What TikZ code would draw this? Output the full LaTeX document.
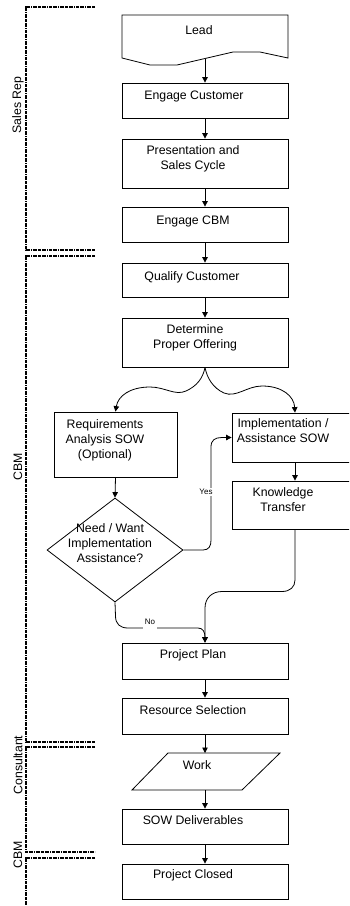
\documentclass[tikz,border=0pt]{standalone}
\usepackage{fontspec}
\setmainfont{Liberation Sans}
\usetikzlibrary{arrows.meta,shapes.geometric}

\tikzset{
  box/.style={draw, line width=0.8pt, rectangle, minimum width=166pt, inner sep=0pt},
  rbox/.style={draw, line width=0.8pt, rectangle, inner sep=0pt},
  txt/.style={font=\fontsize{12.3}{15}\selectfont, align=center, inner sep=0pt},
  small/.style={font=\fontsize{8}{9}\selectfont, fill=white, inner xsep=2pt, inner ysep=1pt},
  lane/.style={line width=1.2pt, dash pattern=on 3pt off 0.8pt on 0.8pt off 0.8pt},
  lanetxt/.style={font=\fontsize{12.3}{15}\selectfont, rotate=90, inner sep=0pt},
  conn/.style={line width=0.8pt, -{Triangle[width=5.5pt,length=5.5pt]}},
}

\begin{document}
\begin{tikzpicture}[x=1pt,y=-1pt]
\clip (0,0) rectangle (349,906);

% swim-lane brackets
\draw[lane] (95,7) -- (26,7) -- (26,250) -- (95,250);
\draw[lane] (95,256) -- (26,256) -- (26,742) -- (95,742);
\draw[lane] (95,747) -- (26,747) -- (26,852) -- (95,852);
\draw[lane] (95,858) -- (26,858) -- (26,910);
\node[lanetxt] (l1) at (18,105) {Sales Rep};
\node[lanetxt] (l2) at (18,467) {CBM};
\node[lanetxt] (l3) at (18,765) {Consultant};
\node[lanetxt] (l4) at (18,855) {CBM};

% document shape
\draw[line width=0.8pt] (122,15) -- (288,15) -- (288,58) -- (260,52) -- (233,52)
  -- (177,65) -- (150,65) -- (122,58) -- cycle;
\node[txt] (leadt) at (199,30) {Lead};
\coordinate (leadout) at (205,58.5);

% process boxes
\node[box, minimum height=35pt] (ec) at (205,100.5) {};
\node[txt] (ect) at (194,96) {Engage Customer};
\node[box, minimum height=49pt] (pres) at (205,163.5) {};
\node[txt] (prest) at (193,158.5) {Presentation and\\Sales Cycle};
\node[box, minimum height=35pt] (ecbm) at (205,224.5) {};
\node[txt] (ecbmt) at (193,221) {Engage CBM};
\node[box, minimum height=34pt] (qc) at (205,280) {};
\node[txt] (qct) at (192,277) {Qualify Customer};
\node[box, minimum height=49pt] (dpo) at (205,342.5) {};
\node[txt] (dpot) at (195,337.5) {Determine\\Proper Offering};

\node[rbox, minimum width=123pt, minimum height=65pt] (ras) at (115.5,444.5) {};
\node[txt] (rast) at (105,440) {Requirements\\Analysis SOW\\(Optional)};
\node[rbox, minimum width=126pt, minimum height=49pt] (ias) at (295,437.5) {};
\node[txt] (iast) at (283,430.5) {Implementation /\\Assistance SOW};
\node[rbox, minimum width=126pt, minimum height=48pt] (kt) at (295,505) {};
\node[txt] (ktt) at (283,500) {Knowledge\\Transfer};

\node[draw, line width=0.8pt, diamond, minimum width=136pt, minimum height=104pt,
      inner sep=0pt] (dec) at (115,550) {};
\node[txt] (dect) at (110,543.5) {Need / Want\\Implementation\\Assistance?};

\node[box, minimum height=36pt] (pp) at (205,661) {};
\node[txt] (ppt) at (193,655) {Project Plan};
\node[box, minimum height=36pt] (rs) at (205,716) {};
\node[txt] (rst) at (193,710) {Resource Selection};
\draw[line width=0.8pt] (168,753) -- (280,753) -- (242,790) -- (132,790) -- cycle;
\coordinate (workin) at (205,753);
\coordinate (workout) at (205,790);
\node[txt] (workt) at (197,765) {Work};
\node[box, minimum height=35pt] (sowd) at (205,826.5) {};
\node[txt] (sowdt) at (193,820) {SOW Deliverables};
\node[box, minimum height=35pt] (pc) at (205,881.5) {};
\node[txt] (pct) at (193,875) {Project Closed};

% straight flow
\draw[conn] (leadout) -- (ec.north);
\draw[conn] (ec.south) -- (pres.north);
\draw[conn] (pres.south) -- (ecbm.north);
\draw[conn] (ecbm.south) -- (qc.north);
\draw[conn] (qc.south) -- (dpo.north);
\draw[conn] (ras.south) -- (dec.north);
\draw[conn] (ias.south) -- (kt.north);
\draw[conn] (pp.south) -- (rs.north);
\draw[conn] (rs.south) -- (workin);
\draw[conn] (workout) -- (sowd.north);
\draw[conn] (sowd.south) -- (pc.north);

% split after offering
\draw[conn] (dpo.south) .. controls (203,378) and (197,386) .. (186,391)
  .. controls (175,396) and (165,387) .. (150,387)
  .. controls (130,387) and (118,396) .. (ras.north);
\draw[conn] (dpo.south) .. controls (207,378) and (213,388) .. (224,393)
  .. controls (236,398) and (247,386) .. (262,386)
  .. controls (282,386) and (294,396) .. (ias.north);

% decision outcomes
\draw[conn] (dec.east) -- (203,550) .. controls (209,550) and (211,546) .. (211,540)
  -- (211,447) .. controls (211,440) and (215,437.5) .. (222,437.5) -- (ias.west);
\node[small] (yes) at (206,492) {Yes};
\draw[conn] (dec.south) -- (115.5,616) .. controls (115.5,624) and (120,628) .. (128,628)
  -- (198,628) .. controls (203,628) and (205,632) .. (pp.north);
\node[small, text depth=4pt] (no) at (150,624) {No};
\draw[conn] (kt.south) -- (295,580) .. controls (295,587) and (290,591.5) .. (282,591.5)
  -- (222,591.5) .. controls (212,591.5) and (205,598) .. (205,608) -- (pp.north);

\end{tikzpicture}
\end{document}
